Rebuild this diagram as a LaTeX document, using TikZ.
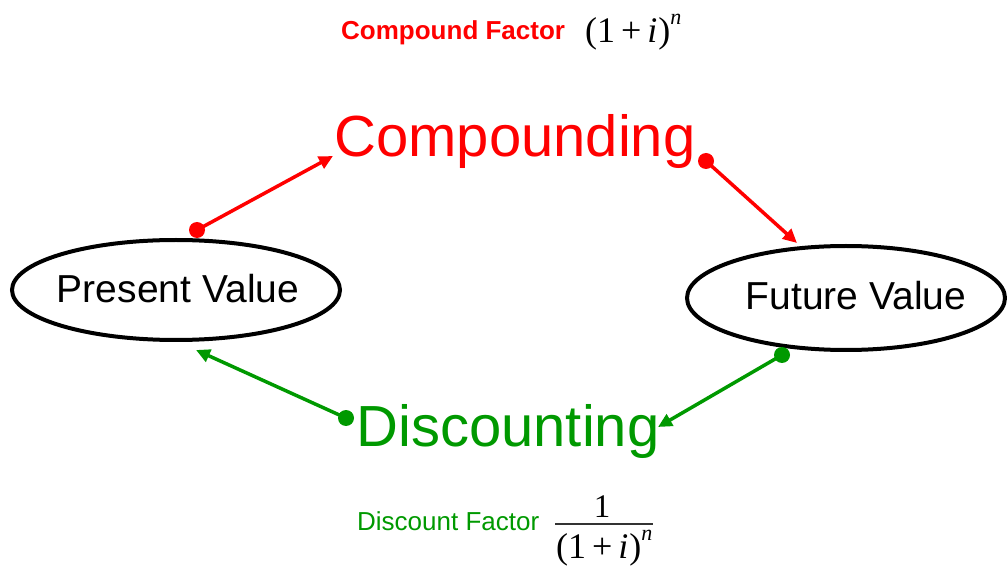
\documentclass[tikz,border=0pt]{standalone}
\usepackage{fontspec}
\setmainfont{Liberation Sans}
\newfontfamily\serifmath{Liberation Serif}
\usetikzlibrary{arrows.meta,shapes.geometric}
\definecolor{cred}{RGB}{255,0,0}
\definecolor{cgreen}{RGB}{0,153,0}
\newcommand{\fsz}[1]{\fontsize{#1}{#1}\selectfont}
\newcommand{\cfexpr}{(1\,+\,\textit{i}\kern1pt)\raisebox{0.5em}{\fsz{22}\textit{n}}}
\tikzset{
  valbox/.style={draw=black, line width=4pt, ellipse, inner sep=0pt},
  bigword/.style={inner sep=0pt, anchor=base, font=\fsz{58}},
  small/.style={inner sep=0pt, anchor=base west, font=\fsz{26}},
  mathtext/.style={inner sep=0pt, font=\fsz{36}\serifmath},
  dotred/.style={circle, fill=cred, inner sep=0pt, minimum size=16pt},
  dotgreen/.style={circle, fill=cgreen, inner sep=0pt, minimum size=16pt},
  conn/.style={line width=3.5pt, -{Triangle[length=14pt,width=13pt]}},
}
\begin{document}
\begin{tikzpicture}[x=1pt,y=-1pt]
\useasboundingbox (0,0) rectangle (1007,569);
% ellipses
\node[valbox, minimum width=328pt, minimum height=100pt] (pv) at (176,290) {};
\node[inner sep=0pt, anchor=base, font=\fsz{39}] (pvt) at (178,303) {Present Value};
\node[valbox, minimum width=318pt, minimum height=104pt] (fv) at (846,298) {};
\node[inner sep=0pt, anchor=base, font=\fsz{39}] (fvt) at (856,310) {Future Value};
% big words
\node[bigword, text=cred] (comp) at (515,157) {Compounding};
\node[bigword, text=cgreen] (disc) at (508,446) {Discounting};
% factor labels
\node[small, text=cred, font=\fsz{26}\bfseries] (cft) at (341,40) {Compound Factor};
\node[mathtext, anchor=base west] (cfm) at (585,43) {\cfexpr};
\node[small, text=cgreen] (dft) at (357,530) {Discount Factor};
\node[mathtext, anchor=base, font=\fsz{33}\serifmath] (dfn) at (602,517) {1};
\node[mathtext, anchor=base west] (dfd) at (556,558) {\cfexpr};
\coordinate (barL) at (555,524);
\coordinate (barR) at (653,524);
\draw[line width=2pt, black!80] (barL) -- (barR);
% dots
\node[dotred] (d1) at (197,230) {};
\node[dotred] (d2) at (706,161) {};
\node[dotgreen] (d3) at (346,418) {};
\node[dotgreen] (d4) at (782,355) {};
% arrow ends
\coordinate (t1) at (333,156);
\coordinate (t2) at (797,243);
\coordinate (t3) at (196,350);
\coordinate (t4) at (658,427);
\draw[conn, cred] (d1.center) -- (t1);
\draw[conn, cred] (d2.center) -- (t2);
\draw[conn, cgreen] (d3.center) -- (t3);
\draw[conn, cgreen] (d4.center) -- (t4);
\end{tikzpicture}
\end{document}
